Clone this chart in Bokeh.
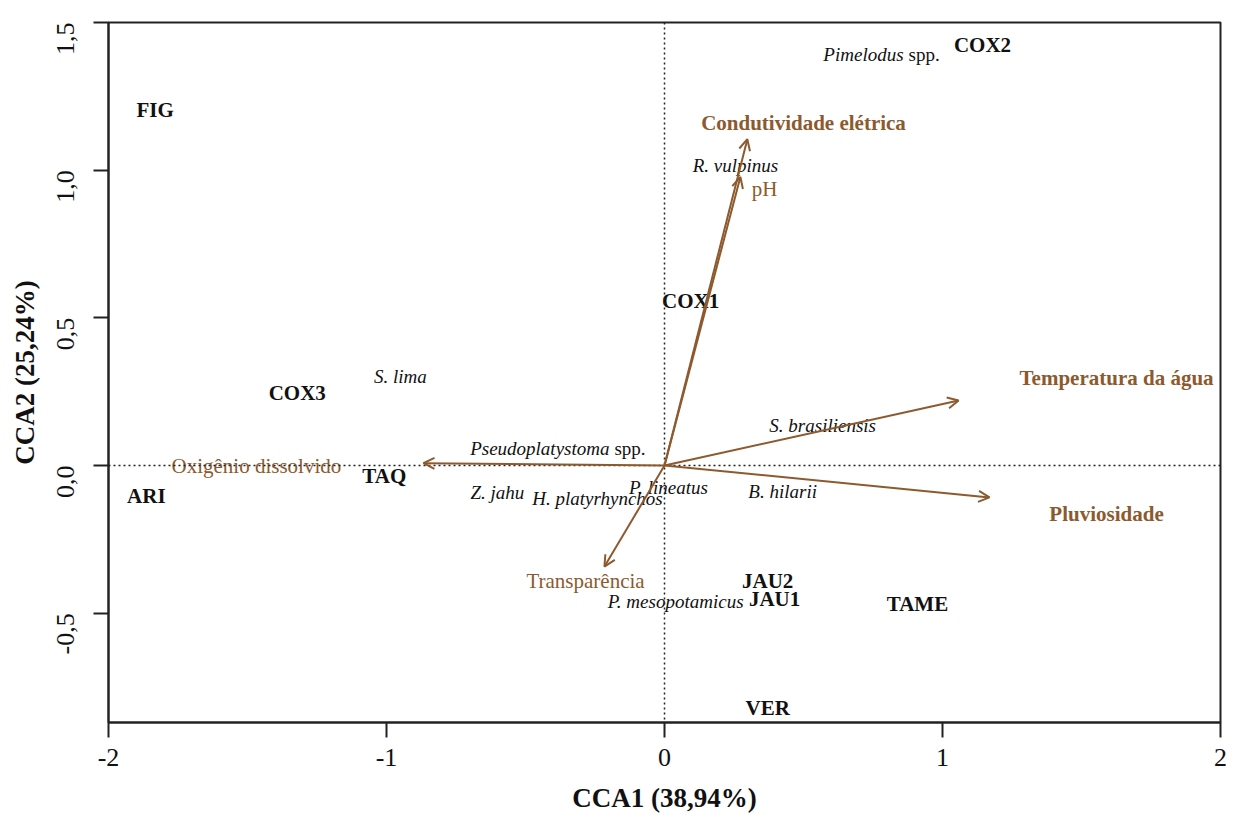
import math
from bokeh.plotting import figure
from bokeh.models import (ColumnDataSource, Arrow, OpenHead, Span, FixedTicker)
from bokeh.core.properties import value
from bokeh.embed import file_html
from bokeh.resources import INLINE

# ---------------- data ----------------
# environmental vectors (arrow tips, CCA1 / CCA2)
env_names = ["Condutividade elétrica", "pH", "Temperatura da água",
             "Pluviosidade", "Oxigênio dissolvido", "Transparência"]
env_x = [0.298, 0.273, 1.058, 1.169, -0.867, -0.216]
env_y = [1.105, 0.977, 0.220, -0.108, 0.008, -0.342]
# label positions of the vectors
env_lab_x = [0.500, 0.360, 1.626, 1.590, -1.468, -0.284]
env_lab_y = [1.159, 0.936, 0.298, -0.163, -0.003, -0.390]
env_bold = [True, False, True, True, False, False]

# sites
site_names = ["FIG", "COX2", "COX1", "COX3", "TAQ", "ARI",
              "JAU2", "JAU1", "TAME", "VER"]
site_x = [-1.832, 1.144, 0.094, -1.321, -1.008, -1.864,
          0.371, 0.396, 0.910, 0.371]
site_y = [1.203, 1.424, 0.556, 0.244, -0.037, -0.102,
          -0.390, -0.451, -0.468, -0.820]

# species (full italic names)
sp_names = ["R. vulpinus", "S. lima", "S. brasiliensis", "Z. jahu",
            "H. platyrhynchos", "P. lineatus", "B. hilarii",
            "P. mesopotamicus"]
sp_x = [0.255, -0.950, 0.569, -0.601, -0.241, 0.014, 0.425, 0.040]
sp_y = [1.017, 0.302, 0.136, -0.092, -0.112, -0.075, -0.088, -0.461]

# species with "spp." (genus italic, "spp." upright); position = junction
spp_genus = ["Pimelodus", "Pseudoplatystoma"]
spp_x = [0.860, -0.198]
spp_y = [1.393, 0.058]

x_ticks = [-2, -1, 0, 1, 2]
x_tick_labels = ["-2", "-1", "0", "1", "2"]
y_ticks = [-0.5, 0.0, 0.5, 1.0, 1.5]
y_tick_labels = ["-0,5", "0,0", "0,5", "1,0", "1,5"]

x_title = "CCA1 (38,94%)"
y_title = "CCA2 (25,24%)"

# ---------------- styling ----------------
FONT_NAME = "Liberation Serif"
FONT = value(FONT_NAME)
BROWN = "#8C5A2E"

p = figure(width=1235, height=820, output_backend="svg",
           toolbar_location=None, x_range=(-2, 2), y_range=(-0.87, 1.5),
           min_border_left=108, min_border_right=15,
           min_border_top=22, min_border_bottom=98)
p.grid.visible = False
p.background_fill_color = "white"
p.border_fill_color = "white"
p.outline_line_color = "#222222"
p.outline_line_width = 2

for ax in (p.xaxis[0], p.yaxis[0]):
    ax.axis_line_color = "#222222"
    ax.axis_line_width = 2
    ax.major_tick_line_color = "#222222"
    ax.major_tick_line_width = 2
    ax.major_tick_out = 15
    ax.major_tick_in = 0
    ax.minor_tick_line_color = None
    ax.major_label_text_font = FONT_NAME
    ax.major_label_text_font_size = "26px"
    ax.major_label_text_color = "#111111"
    ax.axis_label_text_font = FONT_NAME
    ax.axis_label_text_font_size = "27px"
    ax.axis_label_text_font_style = "bold"
    ax.axis_label_text_color = "#111111"

p.xaxis.ticker = FixedTicker(ticks=x_ticks)
p.xaxis.major_label_overrides = {t: l for t, l in zip(x_ticks, x_tick_labels)}
p.yaxis.ticker = FixedTicker(ticks=y_ticks)
p.yaxis.major_label_overrides = {t: l for t, l in zip(y_ticks, y_tick_labels)}
p.yaxis.major_label_orientation = math.pi / 2
p.xaxis.axis_label = x_title
p.yaxis.axis_label = y_title
p.xaxis.major_label_standoff = 11
p.yaxis.major_label_standoff = 28
p.xaxis.axis_label_standoff = 14
p.yaxis.axis_label_standoff = 6

# dotted zero lines
p.add_layout(Span(location=0, dimension="width", line_color="#222222",
                  line_width=1.5, line_dash="2 3"))
p.add_layout(Span(location=0, dimension="height", line_color="#222222",
                  line_width=1.5, line_dash="2 3"))

# arrows
asrc = ColumnDataSource(dict(x0=[0] * len(env_x), y0=[0] * len(env_y),
                             x1=env_x, y1=env_y))
p.add_layout(Arrow(end=OpenHead(size=11, line_color=BROWN, line_width=2),
                   x_start="x0", y_start="y0", x_end="x1", y_end="y1",
                   line_color=BROWN, line_width=2, source=asrc))

# env labels
bold_idx = [i for i, b in enumerate(env_bold) if b]
norm_idx = [i for i, b in enumerate(env_bold) if not b]
p.text(x=[env_lab_x[i] for i in bold_idx], y=[env_lab_y[i] for i in bold_idx],
       text=[env_names[i] for i in bold_idx], text_font=FONT,
       text_font_style="bold", text_font_size="21px", text_color=BROWN,
       text_align="center", text_baseline="middle")
p.text(x=[env_lab_x[i] for i in norm_idx], y=[env_lab_y[i] for i in norm_idx],
       text=[env_names[i] for i in norm_idx], text_font=FONT,
       text_font_style="normal", text_font_size="21px", text_color=BROWN,
       text_align="center", text_baseline="middle")

# sites
p.text(x=site_x, y=site_y, text=site_names, text_font=FONT,
       text_font_style="bold", text_font_size="21px", text_color="#111111",
       text_align="center", text_baseline="middle")

# species
p.text(x=sp_x, y=sp_y, text=sp_names, text_font=FONT,
       text_font_style="italic", text_font_size="19px", text_color="#111111",
       text_align="center", text_baseline="middle")
p.text(x=spp_x, y=spp_y, text=spp_genus, text_font=FONT,
       text_font_style="italic", text_font_size="19px", text_color="#111111",
       text_align="right", text_baseline="middle")
p.text(x=spp_x, y=spp_y, text=["spp."] * len(spp_x), text_font=FONT,
       text_font_style="normal", text_font_size="19px", text_color="#111111",
       text_align="left", text_baseline="middle", x_offset=5)

open("out.html", "w").write(file_html(p, INLINE))
